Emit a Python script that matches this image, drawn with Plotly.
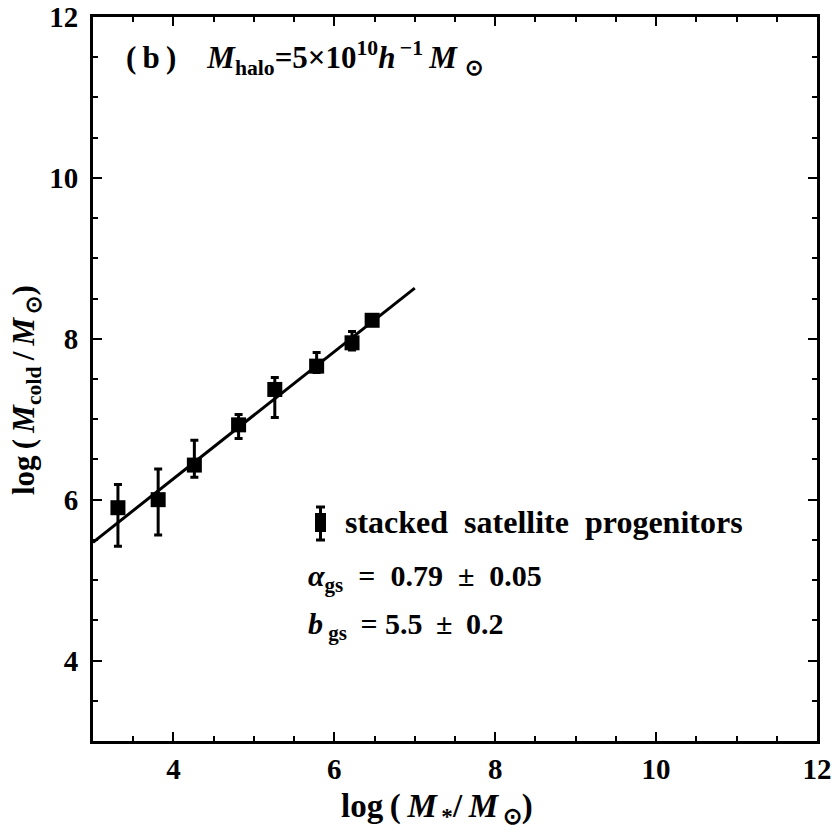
import plotly.graph_objects as go

# ---- data ----
log_mstar = [3.31, 3.81, 4.26, 4.81, 5.26, 5.78, 6.22, 6.47]
log_mcold = [5.90, 6.00, 6.43, 6.93, 7.37, 7.66, 7.95, 8.23]
err_up = [0.29, 0.38, 0.31, 0.13, 0.15, 0.17, 0.14, 0.05]
err_down = [0.48, 0.44, 0.15, 0.17, 0.35, 0.08, 0.09, 0.05]

fit_x = [3.0, 7.0]
fit_y = [5.47, 8.63]

x_ticks = [4, 6, 8, 10, 12]
y_ticks = [4, 6, 8, 10, 12]

FONT = "Liberation Serif"
W = H = 834
L, R, T, B = 93, 17, 17, 93
PW = W - L - R
PH = H - T - B


def px(xp):
    return (xp - L) / PW


def py(yp):
    return (H - B - yp) / PH


fig = go.Figure()

fig.add_trace(go.Scatter(
    x=fit_x, y=fit_y, mode="lines",
    line=dict(color="black", width=3), showlegend=False, hoverinfo="skip"))

fig.add_trace(go.Scatter(
    x=log_mstar, y=log_mcold, mode="markers",
    marker=dict(symbol="square", size=15, color="black"),
    error_y=dict(type="data", symmetric=False, array=err_up, arrayminus=err_down,
                 color="black", thickness=3, width=4),
    name="stacked satellite progenitors", showlegend=False))

axis_common = dict(
    showgrid=False, zeroline=False, automargin=False,
    showline=True, linecolor="black", linewidth=3, mirror="ticks",
    ticks="inside", ticklen=9, tickwidth=2, tickcolor="black",
    tickfont=dict(family=FONT, size=29, color="black", weight="bold"),
    minor=dict(ticks="inside", ticklen=5, tickwidth=2, tickcolor="black", dtick=0.5),
)

fig.update_xaxes(range=[3, 12], tickvals=x_ticks, ticktext=[str(v) for v in x_ticks],
                 ticklabelstandoff=0, **axis_common)
fig.update_yaxes(range=[3, 12], tickvals=y_ticks, ticktext=[str(v) for v in y_ticks],
                 ticklabelstandoff=6, **axis_common)

bold = dict(family=FONT, color="black", weight="bold")
ts = "\u2009"
ann = []
ann.append(dict(
    xref="paper", yref="paper", x=px(124), y=py(58), xanchor="left", yanchor="middle",
    text=f"({ts}b{ts})\u00a0\u00a0\u00a0\u00a0<i>M</i><sub>halo</sub>=5×10<sup>10</sup><i>h</i><sup>{ts}−1</sup>{ts}<i>M</i><sub>{ts}{ts}⊙</sub>",
    showarrow=False, font=dict(size=31, **bold)))
ann.append(dict(
    xref="paper", yref="paper", x=px(343), y=py(522), xanchor="left", yanchor="middle",
    text="stacked\u00a0 satellite\u00a0 progenitors", showarrow=False, font=dict(size=32, **bold)))
ann.append(dict(
    xref="paper", yref="paper", x=px(306), y=py(578), xanchor="left", yanchor="middle",
    text="<i>α</i><sub>gs</sub>\u00a0 =\u00a0 0.79\u00a0 ±\u00a0 0.05", showarrow=False, font=dict(size=30, **bold)))
ann.append(dict(
    xref="paper", yref="paper", x=px(306), y=py(626), xanchor="left", yanchor="middle",
    text=f"<i>b</i><sub> gs</sub>{ts} = 5.5{ts} ±{ts} 0.2", showarrow=False, font=dict(size=30, **bold)))
ann.append(dict(
    xref="paper", yref="paper", x=px(437), y=py(808), xanchor="center", yanchor="middle",
    text=f"log{ts}({ts}<i>M</i><sub>{ts}*</sub>/{ts}<i>M</i><sub>{ts}⊙</sub>)", showarrow=False,
    font=dict(size=33, **bold)))
ann.append(dict(
    xref="paper", yref="paper", x=px(26), y=py(390), xanchor="center", yanchor="middle",
    textangle=-90,
    text=f"log{ts}({ts}<i>M</i><sub>cold</sub>{ts}/{ts}<i>M</i><sub>{ts}⊙</sub>)", showarrow=False,
    font=dict(size=31, **bold)))

# legend key (marker with error bar) drawn in paper coords
shapes = [
    dict(type="line", xref="paper", yref="paper", x0=px(320.5), x1=px(320.5), y0=py(507), y1=py(540),
         line=dict(color="black", width=3)),
    dict(type="line", xref="paper", yref="paper", x0=px(316), x1=px(325), y0=py(507), y1=py(507),
         line=dict(color="black", width=3)),
    dict(type="line", xref="paper", yref="paper", x0=px(316), x1=px(325), y0=py(540), y1=py(540),
         line=dict(color="black", width=3)),
    dict(type="rect", xref="paper", yref="paper", x0=px(315), x1=px(326), y0=py(513), y1=py(532),
         line=dict(width=0), fillcolor="black"),
]

fig.update_layout(
    width=W, height=H,
    margin=dict(l=L, r=R, t=T, b=B),
    paper_bgcolor="white", plot_bgcolor="white",
    annotations=ann, shapes=shapes, showlegend=False,
)

fig.write_html("out.html")
